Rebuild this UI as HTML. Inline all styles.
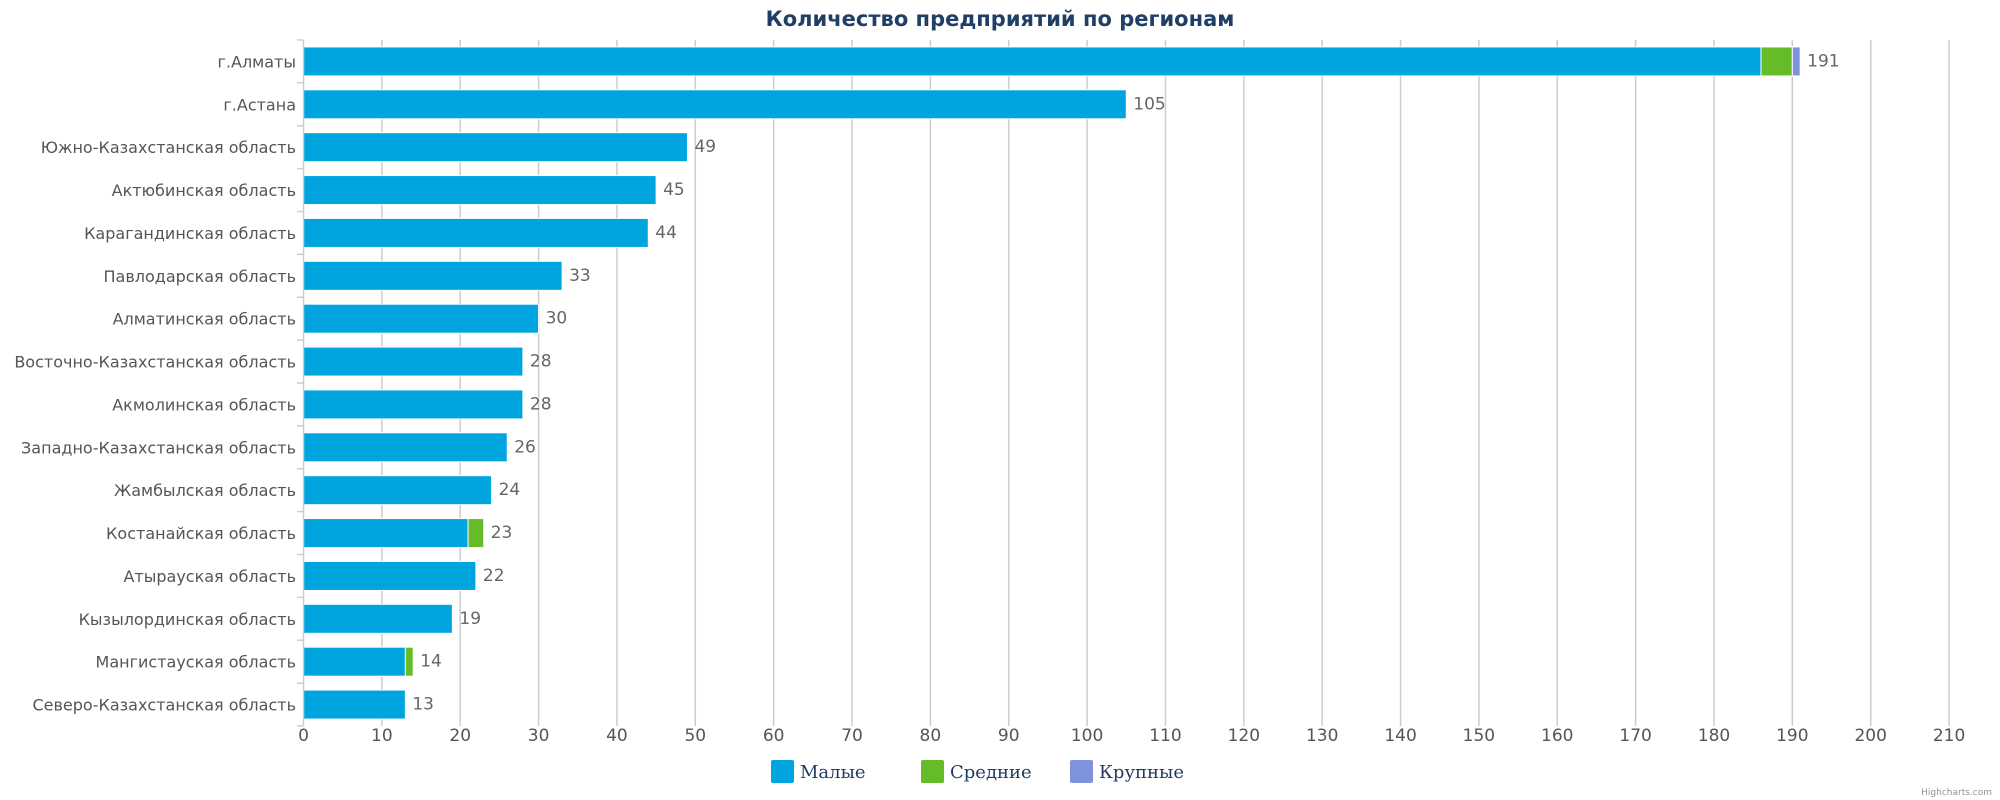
<!DOCTYPE html>
<html><head><meta charset="utf-8"><style>body{margin:0;background:#fff}svg{display:block}</style></head><body>
<svg width="2000" height="800" xmlns="http://www.w3.org/2000/svg" font-family="'DejaVu Sans','Liberation Sans',sans-serif">
<rect width="2000" height="800" fill="#fff"/>
<text x="1000" y="26" text-anchor="middle" font-size="21" font-weight="bold" fill="#1f3f66">Количество предприятий по регионам</text>
<g id="grid" stroke="#cccccc" stroke-width="1.5"></g>
<g id="bars"></g>
<g id="labels"></g>
<line x1="303.5" y1="40" x2="303.5" y2="726" stroke="#c0d0e0" stroke-width="1.5"/>
<g id="ticks" stroke="#c0d0e0" stroke-width="1.5"></g>
<g id="xl" font-size="17" fill="#555" text-anchor="middle"></g>
<g font-family="'DejaVu Serif','Liberation Serif',serif" font-size="18" fill="#1f3a5f">
<rect x="771" y="760" width="23" height="23" rx="2" fill="#00a5df"/><text x="800" y="778">Малые</text>
<rect x="921" y="760" width="23" height="23" rx="2" fill="#66bb29"/><text x="950" y="778">Средние</text>
<rect x="1070" y="760" width="23" height="23" rx="2" fill="#7f92dd"/><text x="1099" y="778">Крупные</text>
</g>
<text x="1992" y="795" text-anchor="end" font-size="9" fill="#909090">Highcharts.com</text>
<script>
var ns="http://www.w3.org/2000/svg";
function el(p,t,a,txt){var e=document.createElementNS(ns,t);for(var k in a)e.setAttribute(k,a[k]);if(txt!=null)e.textContent=txt;document.getElementById(p).appendChild(e);}
var x0=303.5,s=7.836,top0=40,step=42.875;
for(var v=10;v<=210;v+=10){var x=x0+v*s;el('grid','line',{x1:x,y1:40,x2:x,y2:726});}
for(v=0;v<=210;v+=10)el('xl','text',{x:x0+v*s,y:741},v);
for(var i=0;i<=16;i++){var y=top0+i*step;el('ticks','line',{x1:297,y1:y,x2:303.5,y2:y});}
var d=[["г.Алматы",186,4,1],["г.Астана",105,0,0],["Южно-Казахстанская область",49,0,0],["Актюбинская область",45,0,0],["Карагандинская область",44,0,0],["Павлодарская область",33,0,0],["Алматинская область",30,0,0],["Восточно-Казахстанская область",28,0,0],["Акмолинская область",28,0,0],["Западно-Казахстанская область",26,0,0],["Жамбылская область",24,0,0],["Костанайская область",21,2,0],["Атырауская область",22,0,0],["Кызылординская область",19,0,0],["Мангистауская область",13,1,0],["Северо-Казахстанская область",13,0,0]];
var cols=["#00a5df","#66bb29","#7f92dd"];
d.forEach(function(r,i){var c=top0+step*(i+0.5);var acc=0;
for(var j=0;j<3;j++){if(r[j+1]>0){el('bars','rect',{x:x0+acc*s,y:c-14.5,width:r[j+1]*s,height:29,fill:cols[j],stroke:"#fff","stroke-width":1});acc+=r[j+1];}}
el('labels','text',{x:296,y:c+6,"text-anchor":"end","font-size":16,fill:"#555"},r[0]);
el('labels','text',{x:x0+acc*s+7,y:c+5,"font-size":17,fill:"#666"},acc);
});
</script>
</svg>
</body></html>
